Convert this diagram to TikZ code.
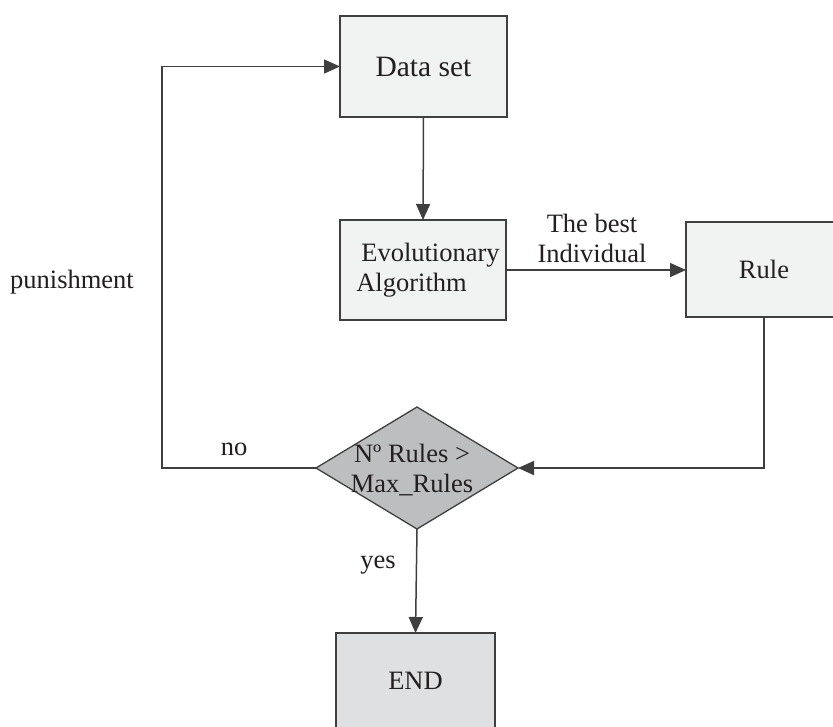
\documentclass[tikz,border=0pt]{standalone}
\usepackage{fontspec}
\setmainfont{Liberation Serif}
\usetikzlibrary{shapes.geometric,arrows.meta}
\definecolor{linegray}{HTML}{3F3F40}
\definecolor{inkc}{HTML}{231F20}
\definecolor{boxfill}{HTML}{F1F2F2}
\definecolor{endfill}{HTML}{DFE0E1}
\definecolor{decfill}{HTML}{BDBEC0}
\tikzset{
  procbox/.style={draw=linegray, line width=1.5pt, fill=boxfill, rectangle,
    inner sep=0pt, outer sep=0pt, text=inkc, font=\fontsize{26.5}{30}\selectfont, align=center},
  decision/.style={draw=linegray, line width=1.3pt, fill=decfill, diamond,
    inner sep=0pt, outer sep=0pt, minimum width=202pt, minimum height=122pt},
  lbl/.style={text=inkc, font=\fontsize{26.5}{30}\selectfont, align=center, inner sep=0pt},
  flow/.style={draw=linegray, line width=1.5pt, -{Triangle[length=16pt,width=14pt]}},
  plain/.style={draw=linegray, line width=1.5pt}
}
\begin{document}
\begin{tikzpicture}[x=1pt,y=-1pt]
\useasboundingbox (0,0) rectangle (833,726);
\clip (0,0) rectangle (833,726);
\fill[white] (0,0) rectangle (833,726);

% process boxes
\node[procbox, minimum width=167pt, minimum height=101pt,
      font=\fontsize{29.5}{32}\selectfont] (data) at (423.5,66.5) {Data set};
\node[procbox, minimum width=166pt, minimum height=100pt] (ea) at (423,270) {};
\node[lbl, align=left] (eatext) at (428,270) {\hspace*{5pt}Evolutionary\\Algorithm};
\node[procbox, minimum width=156pt, minimum height=95pt] (rule) at (764,269.5) {Rule};
\node[decision] (dec) at (417,468) {};
\node[lbl] (dectext) at (412,470) {Nº Rules >\\Max\_Rules};
\node[procbox, fill=endfill, minimum width=159pt, minimum height=95pt] (fin) at (415.5,680.5) {END};

% connectors
\coordinate (loop) at (162,468);
\draw[flow] (data.south) -- (ea.north);
\draw[flow] (ea.east) -- (ea.east -| rule.west);
\draw[flow] (rule.south) |- (dec.east);
\draw[flow] (dec.west) -- (loop) |- (data.west);
\draw[flow] (dec.south) -- (fin.north);

% connector labels
\node[lbl] (best) at (592,238) {The best\\Individual};
\node[lbl] (pun) at (72,282) {punishment};
\node[lbl] (no) at (234,449) {no};
\node[lbl] (yes) at (378,565) {yes};
\end{tikzpicture}
\end{document}
